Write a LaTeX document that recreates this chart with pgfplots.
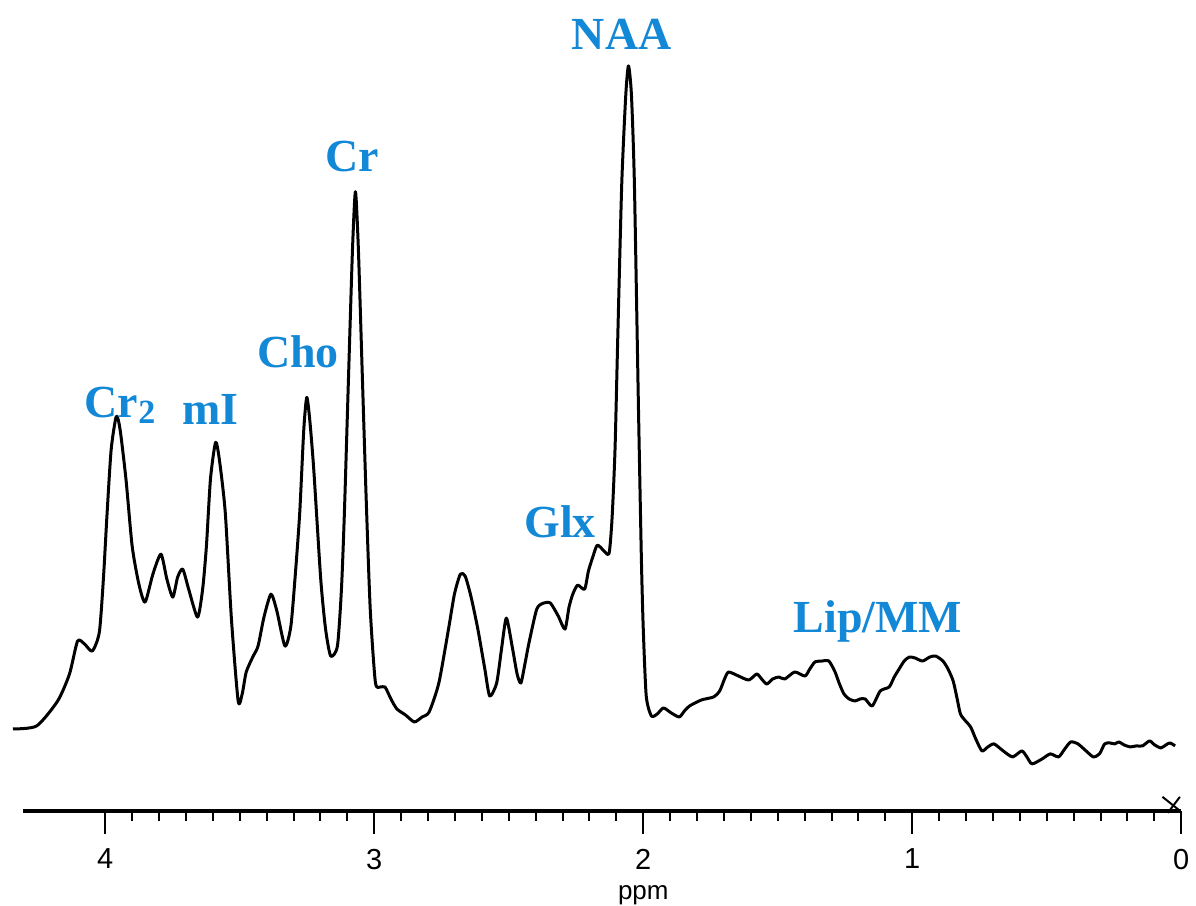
\documentclass[border=0pt]{standalone}
\usepackage{fontspec}
\setmainfont{Liberation Serif}
\newfontfamily\sansf{Liberation Sans}
\usepackage{pgfplots}
\pgfplotsset{compat=1.18}
\definecolor{lblue}{RGB}{18,136,214}
\begin{document}
\begin{tikzpicture}
\begin{axis}[
  scale only axis, width=580pt, height=406pt,
  x dir=reverse, xmin=0, xmax=4.306, ymin=0, ymax=812,
  axis x line=bottom, axis y line=none,
  x axis line style={line width=2pt, -},
  xtick={0,1,2,3,4}, minor x tick num=9,
  tick align=outside,
  major tick length=11.5pt, minor tick length=5pt,
  major tick style={line width=1.2pt, black},
  minor tick style={line width=1pt, black},
  xticklabel style={font=\sansf\fontsize{14.5}{14.5}\selectfont, yshift=-4pt},
  /pgf/number format/assume math mode=true,
  clip=false,
]
\addplot[black, line width=1.5pt, line join=round, smooth, tension=0.4] coordinates {
(4.343,82)(4.255,85)(4.177,110)(4.133,137)(4.103,170)(4.077,167)(4.048,160)(4.022,179)
(4.007,232)(3.993,299)(3.978,362)(3.959,395)(3.945,382)(3.923,332)(3.900,265)(3.875,227)
(3.852,209)(3.823,237)(3.793,257)(3.771,232)(3.749,214)(3.731,234)(3.712,242)(3.690,222)
(3.657,194)(3.638,222)(3.624,265)(3.609,332)(3.590,369)(3.576,352)(3.554,299)(3.531,192)
(3.506,110)(3.491,117)(3.476,139)(3.450,155)(3.432,165)(3.410,194)(3.384,217)(3.362,200)
(3.332,165)(3.310,185)(3.292,242)(3.277,299)(3.262,382)(3.251,414)(3.240,392)(3.225,342)
(3.199,232)(3.181,182)(3.162,155)(3.137,165)(3.122,222)(3.111,299)(3.096,432)(3.081,562)
(3.070,620)(3.059,562)(3.044,432)(3.030,312)(3.015,202)(2.996,129)(2.978,124)(2.960,124)
(2.938,112)(2.916,102)(2.884,96)(2.851,89)(2.822,94)(2.796,99)(2.760,128)(2.724,182)
(2.702,217)(2.680,237)(2.662,235)(2.640,214)(2.615,182)(2.589,142)(2.571,115)(2.545,128)
(2.527,162)(2.509,193)(2.487,164)(2.469,137)(2.455,128)(2.440,147)(2.425,168)(2.396,202)
(2.371,208)(2.345,208)(2.316,195)(2.291,182)(2.276,204)(2.262,217)(2.244,226)(2.218,222)
(2.204,240)(2.189,253)(2.171,266)(2.145,260)(2.127,258)(2.116,293)(2.105,362)(2.095,472)
(2.080,628)(2.065,717)(2.055,746)(2.044,717)(2.033,628)(2.018,405)(2.007,252)(2.000,182)
(1.989,115)(1.970,95)(1.948,97)(1.925,103)(1.896,98)(1.866,94)(1.847,100)(1.828,105)
(1.784,111)(1.739,114)(1.716,120)(1.698,132)(1.683,139)(1.646,135)(1.608,131)(1.578,137)
(1.560,132)(1.541,127)(1.519,132)(1.496,134)(1.474,132)(1.437,139)(1.399,135)(1.381,142)
(1.362,149)(1.336,150)(1.310,150)(1.287,139)(1.272,128)(1.254,117)(1.235,112)(1.213,110)
(1.194,112)(1.175,112)(1.149,105)(1.119,120)(1.086,124)(1.067,134)(1.049,142)(1.030,150)
(1.011,154)(0.989,153)(0.962,150)(0.935,154)(0.913,155)(0.886,150)(0.867,142)(0.848,130)
(0.833,112)(0.821,97)(0.802,90)(0.783,84)(0.764,72)(0.741,60)(0.719,64)(0.696,67)
(0.662,60)(0.627,54)(0.593,60)(0.574,54)(0.555,47)(0.517,52)(0.487,57)(0.456,54)
(0.433,62)(0.411,69)(0.384,67)(0.354,60)(0.327,54)(0.304,57)(0.285,67)(0.266,68)
(0.247,67)(0.232,69)(0.213,66)(0.190,64)(0.167,65)(0.144,65)(0.118,70)(0.099,66)
(0.076,63)(0.057,66)(0.042,68)(0.023,65)
};
\draw[line width=1pt] (axis cs:0.07,14) -- (axis cs:0.005,0);
\draw[line width=1pt] (axis cs:0.005,14) -- (axis cs:0.05,-2);
\begin{scope}[every node/.style={text=lblue, font=\bfseries\fontsize{23}{23}\selectfont, anchor=base, inner sep=0pt}]
\node at (axis cs:3.945,394) {Cr\raisebox{-0.3ex}{\fontsize{17}{17}\selectfont 2}};
\node at (axis cs:3.609,387) {mI};
\node at (axis cs:3.284,444) {Cho};
\node at (axis cs:3.081,640) {Cr};
\node at (axis cs:2.080,762) {NAA};
\node at (axis cs:2.309,274) {Glx};
\node at (axis cs:1.127,179) {Lip/MM};
\end{scope}
\node[anchor=base, inner sep=0pt, font=\sansf\fontsize{13}{13}\selectfont] at ([yshift=-44.5pt]axis cs:2,0) {ppm};
\path ([xshift=-11.5pt,yshift=-47pt]axis cs:4.306,0) -- ([xshift=6.5pt]axis cs:0,812);
\end{axis}
\end{tikzpicture}
\end{document}
